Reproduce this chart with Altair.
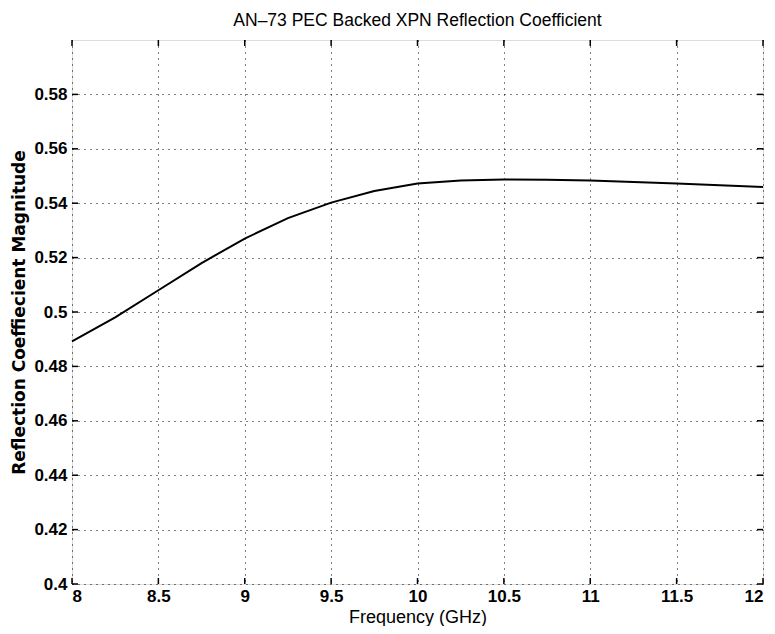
import altair as alt
import pandas as pd

freq = [8.0, 8.25, 8.5, 8.75, 9.0, 9.25, 9.5, 9.75, 10.0, 10.25, 10.5, 10.75, 11.0, 11.25, 11.5, 11.75, 12.0]
refl = [0.4892, 0.4980, 0.5080, 0.5180, 0.5270, 0.5345, 0.5402, 0.5445, 0.5472, 0.5483, 0.5487, 0.5486, 0.5483, 0.5478, 0.5472, 0.5466, 0.5460]

x_ticks = [8, 8.5, 9, 9.5, 10, 10.5, 11, 11.5, 12]
y_ticks = [0.4, 0.42, 0.44, 0.46, 0.48, 0.5, 0.52, 0.54, 0.56, 0.58]

df = pd.DataFrame({"f": freq, "r": refl})
xt = pd.DataFrame({"v": x_ticks})
yt = pd.DataFrame({"v": y_ticks})

FONT = "Liberation Sans"
xs = alt.Scale(domain=[8, 12], nice=False, zero=False)
ys = alt.Scale(domain=[0.4, 0.6], nice=False, zero=False)

line = alt.Chart(df).mark_line(color="black", strokeWidth=2).encode(
    x=alt.X("f:Q", scale=xs, title="Frequency (GHz)",
            axis=alt.Axis(values=x_ticks, format="~g", grid=True, gridColor="black",
                          gridDash=[1, 5], gridWidth=1, gridOpacity=1,
                          tickSize=0, labelPadding=4, domain=False,
                          labelFont=FONT, labelFontSize=17, labelFontWeight="bold",
                          labelColor="black",
                          titleFont=FONT, titleFontSize=18, titleFontWeight="normal",
                          titleColor="black", titlePadding=4)),
    y=alt.Y("r:Q", scale=ys, title="Reflection Coeffiecient Magnitude",
            axis=alt.Axis(values=y_ticks, format="~g", grid=True, gridColor="black",
                          gridDash=[1, 5], gridWidth=1, gridOpacity=1,
                          tickSize=0, labelPadding=5, domain=False,
                          labelFont=FONT, labelFontSize=17, labelFontWeight="bold",
                          labelColor="black",
                          titleFont="DejaVu Sans", titleFontSize=17, titleFontWeight="bold",
                          titleColor="black", titlePadding=5)),
)

xtick_bot = alt.Chart(xt).mark_rule(color="black", strokeWidth=1.5).encode(
    x=alt.X("v:Q", scale=xs), y=alt.value(544), y2=alt.value(538))
xtick_top = alt.Chart(xt).mark_rule(color="black", strokeWidth=1.5).encode(
    x=alt.X("v:Q", scale=xs), y=alt.value(0), y2=alt.value(6))
ytick_l = alt.Chart(yt).mark_rule(color="black", strokeWidth=1.5).encode(
    y=alt.Y("v:Q", scale=ys), x=alt.value(0), x2=alt.value(6))
ytick_r = alt.Chart(yt).mark_rule(color="black", strokeWidth=1.5).encode(
    y=alt.Y("v:Q", scale=ys), x=alt.value(691), x2=alt.value(685))

chart = alt.layer(line, xtick_bot, xtick_top, ytick_l, ytick_r).properties(
    width=691, height=544,
    autosize="none",
    padding={"left": 64, "top": 32, "right": 4, "bottom": 42},
    title=alt.TitleParams("AN\u201373 PEC Backed XPN Reflection Coefficient",
                          font=FONT, fontSize=17.5, fontWeight="normal", color="black",
                          anchor="middle", offset=10),
).configure_view(stroke="black", strokeWidth=2).configure(background="white")

chart.save("out.html", embed_options={"renderer": "svg", "actions": False})
